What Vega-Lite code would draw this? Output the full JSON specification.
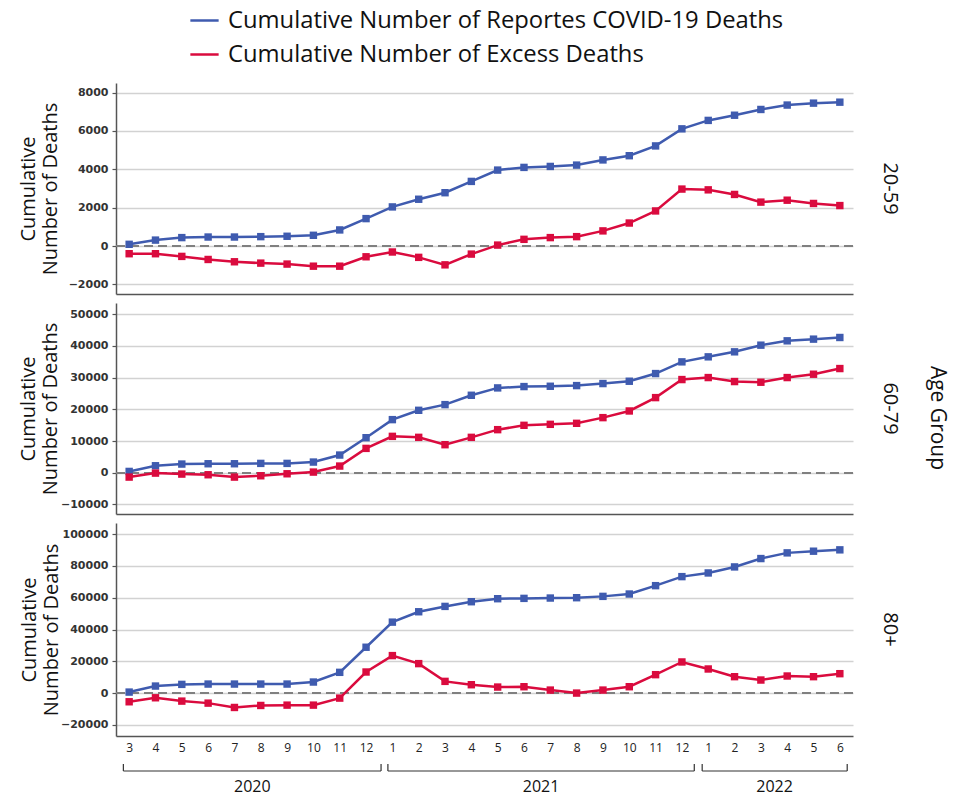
{
  "$schema": "https://vega.github.io/schema/vega-lite/v6.json",
  "background": "white",
  "padding": {"left": 18, "top": 5, "right": 5, "bottom": 3},
  "config": {
    "font": "Open Sans",
    "view": {"stroke": null},
    "axis": {"labelFont": "Open Sans", "titleFont": "Open Sans", "labelColor": "#222", "titleColor": "#111", "gridColor": "#d2d2d2", "gridWidth": 1.5, "domainColor": "#555", "domainWidth": 1.5, "ticks": false, "labelOverlap": false},
    "axisY": {"labelFont": "DejaVu Sans", "labelFontWeight": "bold", "labelFontSize": 11, "labelColor": "#333", "ticks": true, "tickSize": 4, "tickColor": "#555", "tickWidth": 1.2, "labelPadding": 4, "titleFontSize": 20, "titleFontWeight": "normal", "format": "d", "labelOverlap": false, "grid": true},
    "title": {"font": "Open Sans", "fontSize": 20, "fontWeight": "normal", "color": "#111", "anchor": "middle"},
    "legend": {"orient": "none", "legendX": 73, "legendY": -78, "direction": "vertical", "symbolType": "stroke", "symbolSize": 800, "symbolStrokeWidth": 2.5, "labelFontSize": 23.8, "labelFont": "Open Sans", "labelColor": "#111", "rowPadding": 6, "title": null, "labelLimit": 800, "labelOffset": 8}
  },
  "datasets": {
    "d": [
      {"a":"20-59","i":0,"R":90,"E":-400},{"a":"20-59","i":1,"R":310,"E":-400},{"a":"20-59","i":2,"R":440,"E":-540},{"a":"20-59","i":3,"R":470,"E":-700},{"a":"20-59","i":4,"R":470,"E":-820},{"a":"20-59","i":5,"R":490,"E":-890},{"a":"20-59","i":6,"R":510,"E":-940},{"a":"20-59","i":7,"R":560,"E":-1050},{"a":"20-59","i":8,"R":840,"E":-1050},{"a":"20-59","i":9,"R":1430,"E":-560},{"a":"20-59","i":10,"R":2040,"E":-310},{"a":"20-59","i":11,"R":2440,"E":-590},{"a":"20-59","i":12,"R":2780,"E":-980},{"a":"20-59","i":13,"R":3370,"E":-420},{"a":"20-59","i":14,"R":3960,"E":50},{"a":"20-59","i":15,"R":4100,"E":350},{"a":"20-59","i":16,"R":4150,"E":440},{"a":"20-59","i":17,"R":4220,"E":490},{"a":"20-59","i":18,"R":4490,"E":790},{"a":"20-59","i":19,"R":4710,"E":1200},{"a":"20-59","i":20,"R":5220,"E":1830},{"a":"20-59","i":21,"R":6110,"E":2970},{"a":"20-59","i":22,"R":6550,"E":2930},{"a":"20-59","i":23,"R":6820,"E":2690},{"a":"20-59","i":24,"R":7120,"E":2290},{"a":"20-59","i":25,"R":7350,"E":2390},{"a":"20-59","i":26,"R":7450,"E":2220},{"a":"20-59","i":27,"R":7500,"E":2110},
      {"a":"60-79","i":0,"R":420,"E":-1370},{"a":"60-79","i":1,"R":2210,"E":-110},{"a":"60-79","i":2,"R":2740,"E":-420},{"a":"60-79","i":3,"R":2840,"E":-630},{"a":"60-79","i":4,"R":2840,"E":-1370},{"a":"60-79","i":5,"R":2950,"E":-950},{"a":"60-79","i":6,"R":2950,"E":-320},{"a":"60-79","i":7,"R":3370,"E":210},{"a":"60-79","i":8,"R":5580,"E":2110},{"a":"60-79","i":9,"R":11050,"E":7680},{"a":"60-79","i":10,"R":16740,"E":11470},{"a":"60-79","i":11,"R":19680,"E":11160},{"a":"60-79","i":12,"R":21470,"E":8840},{"a":"60-79","i":13,"R":24420,"E":11160},{"a":"60-79","i":14,"R":26740,"E":13580},{"a":"60-79","i":15,"R":27160,"E":14950},{"a":"60-79","i":16,"R":27260,"E":15260},{"a":"60-79","i":17,"R":27470,"E":15580},{"a":"60-79","i":18,"R":28110,"E":17370},{"a":"60-79","i":19,"R":28840,"E":19470},{"a":"60-79","i":20,"R":31260,"E":23680},{"a":"60-79","i":21,"R":34950,"E":29370},{"a":"60-79","i":22,"R":36530,"E":30000},{"a":"60-79","i":23,"R":38110,"E":28740},{"a":"60-79","i":24,"R":40210,"E":28530},{"a":"60-79","i":25,"R":41580,"E":30000},{"a":"60-79","i":26,"R":42110,"E":31050},{"a":"60-79","i":27,"R":42630,"E":32840},
      {"a":"80+","i":0,"R":630,"E":-5470},{"a":"80+","i":1,"R":4420,"E":-2950},{"a":"80+","i":2,"R":5470,"E":-5050},{"a":"80+","i":3,"R":5680,"E":-6320},{"a":"80+","i":4,"R":5680,"E":-9050},{"a":"80+","i":5,"R":5680,"E":-7790},{"a":"80+","i":6,"R":5680,"E":-7580},{"a":"80+","i":7,"R":6950,"E":-7580},{"a":"80+","i":8,"R":13050,"E":-3160},{"a":"80+","i":9,"R":28840,"E":13260},{"a":"80+","i":10,"R":44630,"E":23580},{"a":"80+","i":11,"R":51160,"E":18530},{"a":"80+","i":12,"R":54530,"E":7370},{"a":"80+","i":13,"R":57470,"E":5260},{"a":"80+","i":14,"R":59370,"E":3790},{"a":"80+","i":15,"R":59580,"E":4000},{"a":"80+","i":16,"R":59790,"E":1890},{"a":"80+","i":17,"R":60000,"E":0},{"a":"80+","i":18,"R":60840,"E":1890},{"a":"80+","i":19,"R":62320,"E":4000},{"a":"80+","i":20,"R":67580,"E":11580},{"a":"80+","i":21,"R":73260,"E":19580},{"a":"80+","i":22,"R":75580,"E":15160},{"a":"80+","i":23,"R":79370,"E":10320},{"a":"80+","i":24,"R":84630,"E":8210},{"a":"80+","i":25,"R":88210,"E":10740},{"a":"80+","i":26,"R":89260,"E":10320},{"a":"80+","i":27,"R":90110,"E":12210}
    ],
    "years": [
      {"yr":"2020","s":-0.22,"e":9.57,"c":4.68},
      {"yr":"2021","s":9.83,"e":21.47,"c":15.65},
      {"yr":"2022","s":21.77,"e":27.28,"c":24.52}
    ]
  },
  "spacing": 0,
  "vconcat": [
    {
      "title": {"text": "Age Group", "orient": "right", "offset": 27, "fontSize": 21},
      "spacing": 9,
      "vconcat": [
        {
          "width": 737, "height": 211,
          "title": {"text": "20-59", "orient": "right", "offset": 26},
          "data": {"name": "d"},
          "transform": [{"filter": "datum.a == '20-59'"}, {"fold": ["R", "E"], "as": ["s", "v"]}],
          "layer": [
            {"mark": {"type": "rule", "strokeDash": [9, 5], "color": "#808080", "strokeWidth": 1.5},
             "encoding": {"y": {"datum": 0, "type": "quantitative", "axis": {"values": [-2000, 0, 2000, 4000, 6000, 8000], "labelOverlap": false, "grid": true, "title": ["Cumulative", "Number of Deaths"], "titlePadding": 8}}}},
            {"mark": {"type": "line", "strokeWidth": 2.5, "point": {"shape": "square", "size": 55, "filled": true, "opacity": 1}},
             "encoding": {
               "x": {"field": "i", "type": "quantitative", "scale": {"domain": [-0.5, 27.5], "nice": false, "zero": false}, "axis": {"title": null, "labels": false, "grid": false, "ticks": false}},
               "y": {"field": "v", "type": "quantitative", "scale": {"domain": [-2500, 8500], "nice": false, "zero": false}, "axis": {"values": [-2000, 0, 2000, 4000, 6000, 8000], "labelOverlap": false, "grid": true, "title": ["Cumulative", "Number of Deaths"], "titlePadding": 8}},
               "color": {"field": "s", "type": "nominal", "scale": {"domain": ["R", "E"], "range": ["#3F5BAF", "#DA0B3E"]}, "legend": {"labelExpr": "datum.label == 'R' ? 'Cumulative Number of Reportes COVID-19 Deaths' : 'Cumulative Number of Excess Deaths'"}}
             }}
          ]
        },
        {
          "width": 737, "height": 211,
          "title": {"text": "60-79", "orient": "right", "offset": 26},
          "data": {"name": "d"},
          "transform": [{"filter": "datum.a == '60-79'"}, {"fold": ["R", "E"], "as": ["s", "v"]}],
          "layer": [
            {"mark": {"type": "rule", "strokeDash": [9, 5], "color": "#808080", "strokeWidth": 1.5},
             "encoding": {"y": {"datum": 0, "type": "quantitative", "axis": {"values": [-10000, 0, 10000, 20000, 30000, 40000, 50000], "labelOverlap": false, "grid": true, "title": ["Cumulative", "Number of Deaths"], "titlePadding": 0}}}},
            {"mark": {"type": "line", "strokeWidth": 2.5, "point": {"shape": "square", "size": 55, "filled": true, "opacity": 1}},
             "encoding": {
               "x": {"field": "i", "type": "quantitative", "scale": {"domain": [-0.5, 27.5], "nice": false, "zero": false}, "axis": {"title": null, "labels": false, "grid": false, "ticks": false}},
               "y": {"field": "v", "type": "quantitative", "scale": {"domain": [-13000, 53500], "nice": false, "zero": false}, "axis": {"values": [-10000, 0, 10000, 20000, 30000, 40000, 50000], "labelOverlap": false, "grid": true, "title": ["Cumulative", "Number of Deaths"], "titlePadding": 0}},
               "color": {"field": "s", "type": "nominal", "scale": {"domain": ["R", "E"], "range": ["#3F5BAF", "#DA0B3E"]}, "legend": {"labelExpr": "datum.label == 'R' ? 'Cumulative Number of Reportes COVID-19 Deaths' : 'Cumulative Number of Excess Deaths'"}}
             }}
          ]
        },
        {
          "width": 737, "height": 213,
          "title": {"text": "80+", "orient": "right", "offset": 26},
          "data": {"name": "d"},
          "transform": [{"filter": "datum.a == '80+'"}, {"fold": ["R", "E"], "as": ["s", "v"]}],
          "layer": [
            {"mark": {"type": "rule", "strokeDash": [9, 5], "color": "#808080", "strokeWidth": 1.5},
             "encoding": {"y": {"datum": 0, "type": "quantitative", "axis": {"values": [-20000, 0, 20000, 40000, 60000, 80000, 100000], "labelOverlap": false, "grid": true, "title": ["Cumulative", "Number of Deaths"], "titlePadding": -1}}}},
            {"mark": {"type": "line", "strokeWidth": 2.5, "point": {"shape": "square", "size": 55, "filled": true, "opacity": 1}},
             "encoding": {
               "x": {"field": "i", "type": "quantitative", "scale": {"domain": [-0.5, 27.5], "nice": false, "zero": false}, "axis": {"title": null, "values": [0,1,2,3,4,5,6,7,8,9,10,11,12,13,14,15,16,17,18,19,20,21,22,23,24,25,26,27], "labelExpr": "((datum.value + 2) % 12) + 1", "labelFontSize": 12, "labelPadding": 6, "grid": false, "ticks": false, "labelFlush": false}},
               "y": {"field": "v", "type": "quantitative", "scale": {"domain": [-27000, 107000], "nice": false, "zero": false}, "axis": {"values": [-20000, 0, 20000, 40000, 60000, 80000, 100000], "labelOverlap": false, "grid": true, "title": ["Cumulative", "Number of Deaths"], "titlePadding": -1}},
               "color": {"field": "s", "type": "nominal", "scale": {"domain": ["R", "E"], "range": ["#3F5BAF", "#DA0B3E"]}, "legend": {"labelExpr": "datum.label == 'R' ? 'Cumulative Number of Reportes COVID-19 Deaths' : 'Cumulative Number of Excess Deaths'"}}
             }}
          ]
        }
      ]
    },
    {
      "width": 737, "height": 40,
      "data": {"name": "years"},
      "layer": [
        {"mark": {"type": "rule", "color": "#333", "strokeWidth": 1.2},
         "encoding": {
           "x": {"field": "s", "type": "quantitative", "scale": {"domain": [-0.5, 27.5], "nice": false, "zero": false}, "axis": null},
           "x2": {"field": "e"},
           "y": {"datum": 18, "type": "quantitative", "scale": {"domain": [0, 40], "reverse": true}, "axis": null}
         }},
        {"mark": {"type": "rule", "color": "#333", "strokeWidth": 1.2},
         "encoding": {
           "x": {"field": "s", "type": "quantitative", "scale": {"domain": [-0.5, 27.5], "nice": false, "zero": false}, "axis": null},
           "y": {"datum": 11, "type": "quantitative", "scale": {"domain": [0, 40], "reverse": true}, "axis": null},
           "y2": {"datum": 18}
         }},
        {"mark": {"type": "rule", "color": "#333", "strokeWidth": 1.2},
         "encoding": {
           "x": {"field": "e", "type": "quantitative", "scale": {"domain": [-0.5, 27.5], "nice": false, "zero": false}, "axis": null},
           "y": {"datum": 11, "type": "quantitative", "scale": {"domain": [0, 40], "reverse": true}, "axis": null},
           "y2": {"datum": 18}
         }},
        {"mark": {"type": "text", "fontSize": 16, "color": "#111", "baseline": "middle"},
         "encoding": {
           "x": {"field": "c", "type": "quantitative", "scale": {"domain": [-0.5, 27.5], "nice": false, "zero": false}, "axis": null},
           "y": {"datum": 34, "type": "quantitative", "scale": {"domain": [0, 40], "reverse": true}, "axis": null},
           "text": {"field": "yr"}
         }}
      ]
    }
  ]
}
